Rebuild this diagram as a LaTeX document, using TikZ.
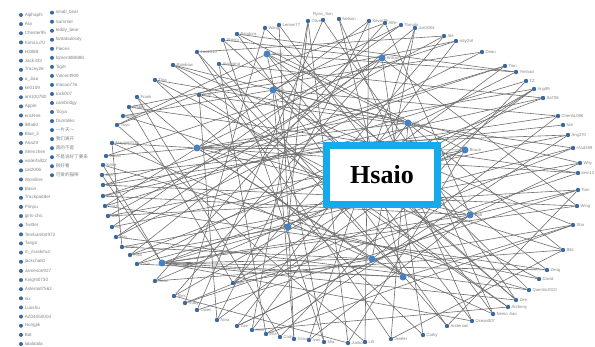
\documentclass[tikz,border=0pt]{standalone}
\usepackage{fontspec}
\setmainfont{Liberation Sans}
\newfontfamily\boxfont{Liberation Serif}
\newfontfamily\cjk{Noto Sans CJK SC}
\pgfdeclarelayer{bg}
\pgfsetlayers{bg,main}
\definecolor{dotblue}{RGB}{58,104,160}
\definecolor{hubblue}{RGB}{70,130,195}
\definecolor{edgegray}{RGB}{110,110,110}
\definecolor{lblgray}{RGB}{130,130,130}
\definecolor{boxblue}{RGB}{20,170,235}
\tikzset{
  dot/.style={circle,fill=dotblue,inner sep=0pt,minimum size=4.4pt},
  hub/.style={circle,fill=hubblue,inner sep=0pt,minimum size=7pt},
  lbl/.style={font=\fontsize{4.2}{5}\selectfont,text=lblgray,inner sep=0.4pt,label distance=0.6pt},
  leglbl/.style={font=\fontsize{4.6}{5.5}\selectfont,text=lblgray,inner sep=0.4pt,label distance=1pt},
  edge/.style={draw=edgegray,line width=0.6pt},
  hsbox/.style={draw=boxblue,line width=7pt,fill=white,minimum width=111pt,minimum height=59pt,inner sep=0pt,
    font=\boxfont\bfseries\fontsize{26}{30}\selectfont}
}
\begin{document}
\begin{tikzpicture}[x=1pt,y=-1pt]
\useasboundingbox (0,0) rectangle (595,347);
% legend column 1
\foreach \i/\t in {1/Alphaphi,2/Ara,3/Chester95,4/KimiLiu70,5/H3888,6/Jack333,7/Tracey26,8/a\_Jiao,9/ke0109,10/am100780,
  11/Apple,12/ericRee,13/lkfla60,14/Blue\_li,15/Aria29,16/Shenzhen,17/waterfall22,18/cat2006,19/Wordline,20/Basin,
  21/Trackpadder,22/Pimpu,23/girls-chic,24/Twitter,25/Tembamb0972,26/Tango,27/m\_maskmut,28/jackcha81,29/Jameson927,
  30/Knight0730,31/Asteroid7562,32/nix,33/Luoshu,34/AZ04050004,35/Hungjik,36/Bat,37/lalalalala}
  \node[dot,minimum size=4pt,label={[leglbl]right:\t}] (la\i) at (21,{15+(\i-1)*9.14}) {};
% legend column 2
\foreach \i/\t in {1/small\_bear,2/Summer,3/teddy\_bear,4/fantabulosity,5/Pieces,6/fqmen888888,7/Tiger,8/Vincent909,
  9/macao776,10/rock007,11/cambridgy,12/Tioya,13/Dumbliks,14/{\cjk 一片天～},15/{\cjk 我们离开},16/{\cjk 真的不是},
  17/{\cjk 不是说好了要来},18/{\cjk 很好看},19/{\cjk 可爱的猫咪}}
  \node[dot,minimum size=4pt,label={[leglbl]right:\t}] (lb\i) at (52,{12.7+(\i-1)*9.03}) {};
% perimeter nodes
\foreach \n/\x/\y/\t/\d in {
 p1/102/175/Jenny/right,p2/103/165/Kobe/right,p3/106/156/Lucas/right,p4/112/143/Maggie2012/right,p5/117/125/Yoyo/right,p6/123/116/Harry/right,
 p7/129/107/Amber/right,p8/137/97/Frank/right,p9/155/80/Tina/right,p10/173/65/Rainbow/right,p11/197/52/Leo2010/right,p12/223/40/Sherry/right,
 p13/237/34/Pandora/right,p14/265/28/Wang/right,p15/279/25/Lemon77/right,p16/308/21/Olive/right,p17/323/20/Ryan\_Sun/above,p18/339/19/Nelson/right,
 p19/369/21/Kevin79/right,p20/385/23/Alfie/right,p21/401/25/Tomato/right,p22/415/28/Jun2004/right,p23/444/36/Ale/right,p24/456/41/sillyGirl/right,
 p25/482/52/Dean/right,p26/505/66/Tian/right,p27/516/72/Yimhad/right,p28/526/81/TZ/right,p29/534/89/Ang99/right,p30/543/98/Sa708/right,
 p31/558/116/Chen5L098/right,p32/563/125/Nie/right,p33/568/135/Ang270/right,p34/573/148/rA1d309/right,p35/580/163/Why/right,p36/578/173/kem12/right,
 p37/578/190/Tom/right,p38/577/206/Wing/right,p39/573/225/Star/right,p40/563/250/Bibi/right,p41/547/270/Zeng/right,p42/539/279/David/right,
 p43/529/290/Quentin2010/right,p44/516/300/Zee/right,p45/508/307/Anthony/right,p46/493/314/Nemo Jiao/right,p47/472/321/Ocean007/right,
 p48/447/326/Anderson/right,p49/423/335/Cathy/right,p50/391/339/Jenifer/right,p51/365/342/Lili/right,p52/348/343/Junko/right,p53/324/342/Mia/right,
 p54/309/340/Ivan/right,p55/294/339/Grace/right,p56/280/337/Cody/right,p57/266/334/Ella/right,p58/252/330/Henry/right,p59/237/326/Zoe/right,
 p60/217/320/Nina/right,p61/197/310/Owen/right,p62/185/303/Ruby/right,p63/174/296/Alex/right,p64/155/281/Sean/right,p65/137/264/Luna/right,
 p66/130/255/Paul/right,p67/122/247/Emma/right,p68/116/237/Max/right,p69/112/227/Ivy/right,p70/108/216/Sam/right,p71/105/206/Coco/right,
 p72/103/196/Eric/right,p73/103/185/Lily/right}
  \node[dot,label={[lbl]\d:\t}] (\n) at (\x,\y) {};
% inner nodes
\foreach \n/\x/\y/\t/\s in {
 a/267/54/Shine/hub,b/273/90/Xin/hub,c/219/64/Xiaoyang/dot,d/199/95/Blue/dot,e/382/58/Wilson/hub,
 f/197/148/Kathy/hub,g/162/263/Miko/hub,h/233/283/Ben/dot,i/288/227/Joe/hub,j/408/123/Gin/hub,
 k/465/150/Bruce/hub,l/470/215/Bob/hub,m/372/259/Kai/hub,n/403/277/Ken/hub}
  \node[\s,label={[lbl]right:\t}] (\n) at (\x,\y) {};
% edges
\begin{pgfonlayer}{bg}
\foreach \u/\v in {
 f/j,f/k,f/p36,f/p33,f/l,f/n,f/p29,f/p3,f/p4,f/p71,f/e,f/p19,f/m,f/p8,
 g/m,g/n,g/p44,g/p41,g/l,g/p38,g/p1,g/p2,g/i,g/k,g/p47,
 j/a,j/p10,j/p9,j/p50,j/p46,j/p58,j/p40,
 a/p5,a/p27,a/p41,a/p47,a/p53,
 b/p6,b/p31,b/p35,b/p55,b/p44,b/p21,
 c/p30,c/p48,c/p57,
 d/p34,d/p45,d/p25,d/p60,
 e/p49,e/p63,e/p68,e/p12,e/p38,
 h/p23,h/p29,h/p39,h/p7,
 i/p16,i/p42,i/p66,i/p26,
 k/p64,k/p70,k/p52,k/p13,
 l/p72,l/p59,l/p20,l/p54,l/p37,
 m/p22,m/p67,m/p31,
 n/p18,n/p65,n/p11,n/p39,
 p1/p32,p2/p43,p3/p24,p4/p46,p5/p51,p6/p40,p7/p36,p8/p56,p9/p42,p10/p45,
 p11/p50,p12/p53,p13/p48,p14/p62,p15/p55,p16/p58,p17/p61,p18/p47,p19/p60,p20/p64,
 p21/p69,p22/p66,p23/p70,p24/p59,p25/p68,p26/p73,p27/p65,p28/p71,p29/p63,p30/p72,
 p33/p69,p34/p62,p35/p67,p37/p61,p38/p73,p39/p57,p41/p71,p43/p14,p44/p17,p46/p15,
 p49/p9,p51/p19,p52/p16,p54/p22,p56/p28,p57/p33,p59/p35,p60/p29,p62/p36,p64/p40,
 p65/p34,p66/p30,p68/p43,p70/p37,p72/p26,p73/p31,p5/p20,p7/p24,p10/p39,p12/p44,
 p4/p67,p63/p52,p58/p45,p50/p40,p48/p37,p11/p23,p13/p27}
  \draw[edge] (\u) -- (\v);
\end{pgfonlayer}
% overlay box
\node[hsbox] (title) at (382,175) {Hsaio};
\end{tikzpicture}
\end{document}
